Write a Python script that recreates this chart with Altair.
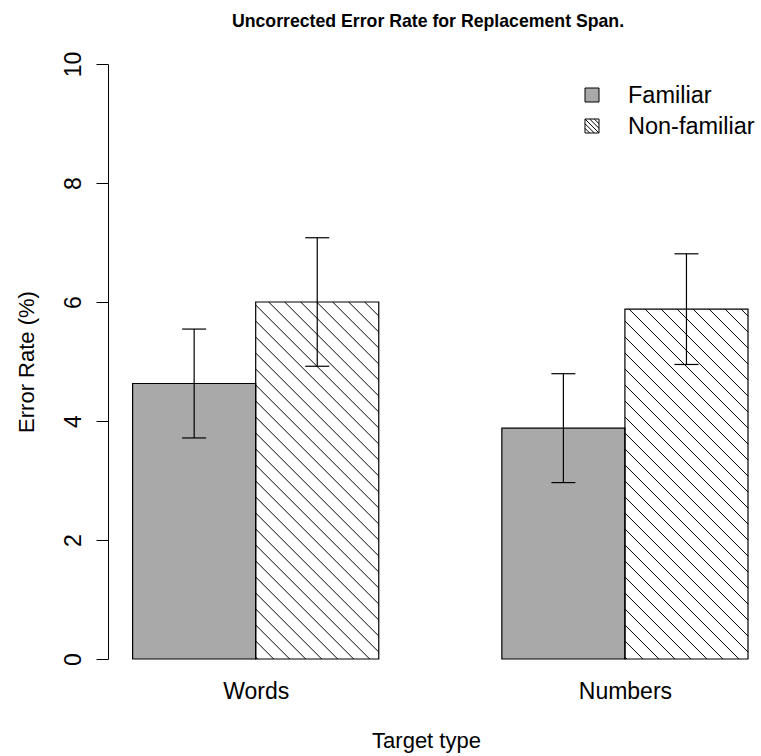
import altair as alt
import pandas as pd

# ---- data -----------------------------------------------------------------
categories = ["Words", "Numbers"]
groups = ["Familiar", "Non-familiar"]
familiar_rate = [4.63, 3.88]
familiar_err = [0.915, 0.915]
nonfamiliar_rate = [6.00, 5.88]
nonfamiliar_err = [1.08, 0.93]
y_ticks = [0, 2, 4, 6, 8, 10]

# ---- layout ---------------------------------------------------------------
FONT = "Liberation Sans"
GRAY = "#a9a9a9"
W, H = 640, 595
X_DOMAIN = [0.8, 6.0]
Y_DOMAIN = [0, 10]
PX_X = W / (X_DOMAIN[1] - X_DOMAIN[0])
PX_Y = H / (Y_DOMAIN[1] - Y_DOMAIN[0])
HATCH_STEP = 16      # horizontal distance between hatch lines, px
CAP_HALF = 12        # half width of error bar caps, px

# barplot(beside=TRUE) style slots: one unit per bar, one unit gap per group
rows = []
for ci, cat in enumerate(categories):
    for gi, (grp, rates, errs) in enumerate(
        zip(groups, [familiar_rate, nonfamiliar_rate], [familiar_err, nonfamiliar_err])
    ):
        left = 1 + ci * 3 + gi
        m = left + 0.5
        rows.append(dict(
            category=cat, group=grp, x0=left, x1=left + 1, xm=m,
            rate=rates[ci], lo=rates[ci] - errs[ci], hi=rates[ci] + errs[ci],
            cap0=m - CAP_HALF / PX_X, cap1=m + CAP_HALF / PX_X,
        ))
bars = pd.DataFrame(rows)

# diagonal hatch segments clipped to each non-familiar bar
hatch_rows = []
for r in rows:
    if r["group"] != "Non-familiar":
        continue
    w = PX_X
    h = r["rate"] * PX_Y
    c = 2.0
    while c < w + h:
        u0, u1 = max(0.0, c - h), min(w, c)
        if u1 > u0:
            hatch_rows.append(dict(
                x=r["x0"] + u0 / PX_X, y=(c - u0) / PX_Y,
                x2=r["x0"] + u1 / PX_X, y2=(c - u1) / PX_Y,
            ))
        c += HATCH_STEP
hatch = pd.DataFrame(hatch_rows)

# legend symbols as unit-square SVG paths
SQUARE = "M-1,-1H1V1H-1Z"
HATCHED = ("M-1,-1H1V1H-1Z"
           "M-1,-1L1,1M-0.33,-1L1,0.33M0.33,-1L1,-0.33"
           "M-1,-0.33L0.33,1M-1,0.33L-0.33,1")
SYMBOLS = [SQUARE, HATCHED]
FILLS = [GRAY, "white"]

xs = alt.Scale(domain=X_DOMAIN, nice=False, zero=False)
ys = alt.Scale(domain=Y_DOMAIN, nice=False, zero=False)

centers = [1 + ci * 3 + 1 for ci in range(len(categories))]
label_expr = " : ".join(
    f"datum.value == {c} ? '{cat}'" for c, cat in zip(centers, categories)
) + " : ''"

x_axis = alt.Axis(
    values=centers, labelExpr=label_expr, title="Target type",
    domain=False, ticks=False, grid=False,
    labelFont=FONT, labelFontSize=23, labelColor="black", labelPadding=21,
    labelBaseline="top",
    titleFont=FONT, titleFontSize=22, titleFontWeight="normal", titleColor="black",
    titleX=318, titleY=88, titleBaseline="alphabetic", titleAlign="center",
)
y_axis = alt.Axis(
    values=y_ticks, format="d", title="Error Rate (%)", grid=False,
    domainColor="black", tickColor="black", tickSize=12, domainWidth=1, tickWidth=1,
    labelAngle=270, labelAlign="center", labelBaseline="alphabetic", labelPadding=16,
    labelFont=FONT, labelFontSize=23, labelColor="black",
    titleFont=FONT, titleFontSize=22, titleFontWeight="normal", titleColor="black",
    titleAngle=270, titleX=-75, titleY=H / 2, titleBaseline="alphabetic", titleAlign="center",
)

fill_scale = alt.Scale(domain=groups, range=FILLS)

base = alt.Chart(bars)

fills = base.mark_rect(strokeWidth=0).encode(
    x=alt.X("x0:Q", scale=xs, axis=x_axis),
    x2="x1:Q",
    y=alt.Y("rate:Q", scale=ys, axis=y_axis),
    y2=alt.datum(0),
    fill=alt.Fill("group:N", scale=fill_scale, legend=None),
)

hatch_lines = alt.Chart(hatch).mark_rule(color="black", strokeWidth=1).encode(
    x=alt.X("x:Q", scale=xs), x2="x2:Q",
    y=alt.Y("y:Q", scale=ys), y2="y2:Q",
)

outlines = base.mark_rect(fillOpacity=0, stroke="black", strokeWidth=1.2).encode(
    x=alt.X("x0:Q", scale=xs), x2="x1:Q",
    y=alt.Y("rate:Q", scale=ys), y2=alt.datum(0),
)

whisker = base.mark_rule(color="black", strokeWidth=1.2).encode(
    x=alt.X("xm:Q", scale=xs),
    y=alt.Y("lo:Q", scale=ys), y2="hi:Q",
)

caps = base.transform_fold(["lo", "hi"], as_=["end", "val"]).mark_rule(
    color="black", strokeWidth=1.2
).encode(
    x=alt.X("cap0:Q", scale=xs), x2="cap1:Q",
    y=alt.Y("val:Q", scale=ys),
)

# key in the top-right corner: one symbol + label per group
LEG_SYM_X, LEG_TXT_X, LEG_Y0, LEG_DY = 484, 520, 31, 31
legend_layers = []
for i, grp in enumerate(groups):
    key = alt.Chart(pd.DataFrame({"group": [grp]}))
    legend_layers.append(
        key.mark_point(
            shape=SYMBOLS[i], filled=True, fill=FILLS[i], stroke="black",
            strokeWidth=1, size=196, opacity=1,
        ).encode(x=alt.value(LEG_SYM_X), y=alt.value(LEG_Y0 + i * LEG_DY))
    )
    legend_layers.append(
        key.mark_text(
            align="left", baseline="middle", font=FONT, fontSize=23.5, color="black",
        ).encode(
            x=alt.value(LEG_TXT_X), y=alt.value(LEG_Y0 + i * LEG_DY + 1),
            text="group:N",
        )
    )

chart = alt.layer(fills, hatch_lines, outlines, whisker, caps, *legend_layers).properties(
    width=W, height=H,
    autosize=alt.AutoSizeParams(type="none"),
    padding={"left": 108, "top": 64, "right": 13, "bottom": 97},
    title=alt.TitleParams(
        "Uncorrected Error Rate for Replacement Span.",
        font=FONT, fontSize=17.7, fontWeight="bold", color="black",
        anchor="middle", offset=21,
    ),
    background="white",
).configure_view(stroke=None)

chart.save("out.html", embed_options={"renderer": "svg", "actions": False})
